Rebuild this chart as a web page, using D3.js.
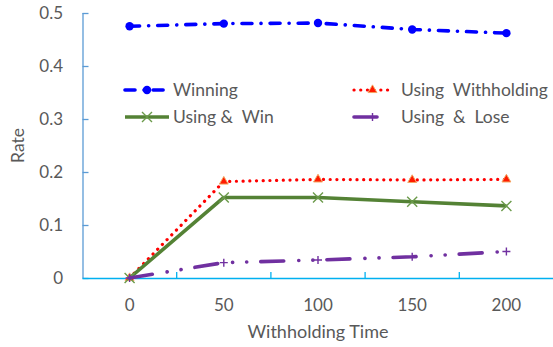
<!DOCTYPE html>
<html>
<head>
<meta charset="utf-8">
<script src="https://cdn.jsdelivr.net/npm/d3@7"></script>
<style>
  html, body { margin: 0; padding: 0; background: #fff; }
  svg text { font-family: Lato, "Noto Sans", sans-serif; fill: #595959; white-space: pre; }
</style>
</head>
<body>
<svg id="chart" width="553" height="347"></svg>
<script>
// Withholding time categories and the rate measured for each series
const categories = ["0", "50", "100", "150", "200"];
const winning = [0.475, 0.480, 0.481, 0.469, 0.462];
const usingWithholding = [0.000, 0.182, 0.186, 0.185, 0.186];
const usingWin = [0.000, 0.152, 0.152, 0.144, 0.136];
const usingLose = [0.000, 0.029, 0.034, 0.040, 0.050];
const yTicks = [0, 0.1, 0.2, 0.3, 0.4, 0.5];
const yTickLabels = ["0", "0.1", "0.2", "0.3", "0.4", "0.5"];

const svg = d3.select("#chart");
const plotLeft = 82.5, plotRight = 553.5, plotTop = 13, plotBottom = 278;

const x = d3.scaleBand().domain(categories).range([plotLeft, plotRight]).paddingInner(0).paddingOuter(0);
const y = d3.scaleLinear().domain([0, 0.5]).range([plotBottom, plotTop]);
const cx = c => x(c) + x.bandwidth() / 2;

// Y axis: ticks pointing into the plot
const yAxis = d3.axisRight(y).tickValues(yTicks).tickSize(6).tickFormat("");
const gy = svg.append("g").attr("transform", `translate(${plotLeft},0)`).call(yAxis);
gy.select(".domain").attr("stroke", "#5B9BD5").attr("stroke-width", 1.3).attr("d", `M0.5,${plotTop}V${plotBottom}`);
gy.selectAll(".tick line").attr("stroke", "#5B9BD5").attr("stroke-width", 1.3);
svg.append("g").selectAll("text").data(yTicks).join("text")
  .attr("x", 63).attr("y", d => y(d)).attr("dy", "0.35em")
  .attr("text-anchor", "end").attr("font-size", 17)
  .text((d, i) => yTickLabels[i]);

// X axis: band boundaries carry the tick marks, labels sit at band centres
const gx = svg.append("g");
gx.append("line").attr("x1", plotLeft).attr("x2", plotRight).attr("y1", plotBottom + 0.5).attr("y2", plotBottom + 0.5)
  .attr("stroke", "#00B0F0").attr("stroke-width", 1.5);
const bounds = categories.map(c => x(c)).slice(1);
gx.selectAll("line.tk").data(bounds).join("line").attr("class", "tk")
  .attr("x1", d => d).attr("x2", d => d).attr("y1", plotBottom - 6).attr("y2", plotBottom)
  .attr("stroke", "#00B0F0").attr("stroke-width", 1.3);
gx.selectAll("text").data(categories).join("text")
  .attr("x", d => cx(d)).attr("y", 305).attr("dy", "0.35em")
  .attr("text-anchor", "middle").attr("font-size", 17).text(d => d);

// Axis titles
svg.append("text").attr("x", (plotLeft + plotRight) / 2).attr("y", 338)
  .attr("text-anchor", "middle").attr("font-size", 18).text("Withholding Time");
svg.append("text").attr("transform", `translate(24,${(plotTop + plotBottom) / 2}) rotate(-90)`)
  .attr("text-anchor", "middle").attr("font-size", 17.5).text("Rate");

// Marker drawing helpers
function marker(g, type, px, py, s) {
  if (type === "circle") {
    g.append("circle").attr("cx", px).attr("cy", py).attr("r", 4.2).attr("fill", s.color);
  } else if (type === "triangle") {
    g.append("path").attr("d", d3.symbol(d3.symbolTriangle, 34)()).attr("transform", `translate(${px},${py})`)
      .attr("fill", "#FF1A00").attr("stroke", "#F4A460").attr("stroke-width", 1);
  } else if (type === "x") {
    g.append("path").attr("d", "M-5,-5L5,5M-5,5L5,-5").attr("transform", `translate(${px},${py})`)
      .attr("stroke", "#6B9A4A").attr("stroke-width", 1.4).attr("fill", "none");
  } else if (type === "plus") {
    g.append("path").attr("d", "M-4,0H4M0,-4V4").attr("transform", `translate(${px},${py})`)
      .attr("stroke", s.color).attr("stroke-width", 1.4).attr("fill", "none");
  }
}

const series = [
  { name: "Winning", values: winning, color: "#0000FF", dash: "10,9,0.1,9", width: 3.6, cap: "round", marker: "circle" },
  { name: "Using  Withholding", values: usingWithholding, color: "#FF0000", dash: "0.1,6.6", width: 3.2, cap: "round", marker: "triangle" },
  { name: "Using &  Win", values: usingWin, color: "#548235", dash: null, width: 3.6, cap: "butt", marker: "x" },
  { name: "Using  &  Lose", values: usingLose, color: "#7030A0", dash: "23,15,0.1,14,0.1,14", width: 3.6, cap: "round", marker: "plus" }
];

const line = d3.line().x((d, i) => cx(categories[i])).y(d => y(d));

series.forEach(s => {
  const g = svg.append("g");
  g.append("path").datum(s.values).attr("d", line)
    .attr("fill", "none").attr("stroke", s.color).attr("stroke-width", s.width)
    .attr("stroke-linecap", s.cap).attr("stroke-linejoin", "round")
    .attr("stroke-dasharray", s.dash);
  s.values.forEach((v, i) => marker(g, s.marker, cx(categories[i]), y(v), s));
});

// Legend: two columns, two rows
const legendPos = [
  { x0: 125, x1: 169, tx: 173, y: 90 },
  { x0: 354, x1: 391, tx: 401, y: 90 },
  { x0: 125, x1: 169, tx: 173, y: 117 },
  { x0: 354, x1: 391, tx: 401, y: 117 }
];
series.forEach((s, i) => {
  const p = legendPos[i];
  const g = svg.append("g");
  g.append("line").attr("x1", p.x0).attr("x2", p.x1).attr("y1", p.y).attr("y2", p.y)
    .attr("stroke", s.color).attr("stroke-width", s.width).attr("stroke-linecap", s.cap)
    .attr("stroke-dasharray", s.dash);
  marker(g, s.marker, (p.x0 + p.x1) / 2, p.y, s);
  g.append("text").attr("x", p.tx).attr("y", p.y).attr("dy", "0.35em").attr("font-size", 17.5).text(s.name);
});
</script>
</body>
</html>
